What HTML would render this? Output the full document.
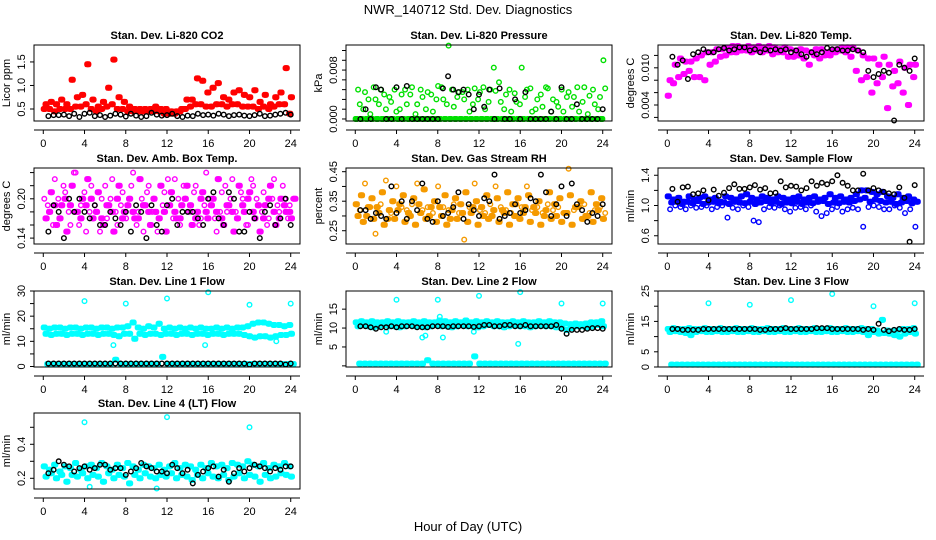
<!DOCTYPE html>
<html><head><meta charset="utf-8"><style>
body{margin:0;background:#fff}
svg{display:block;font-family:"Liberation Sans",sans-serif}
</style></head><body>
<svg id="c" width="936" height="540" xmlns="http://www.w3.org/2000/svg">
<text x="468" y="14" text-anchor="middle" font-size="13">NWR_140712  Std. Dev. Diagnostics</text>
<text x="468" y="531" text-anchor="middle" font-size="13">Hour of Day (UTC)</text>
</svg>
<script>
// ---- data (hour-of-day grid) ----
const xTicks=[0,4,8,12,16,20,24];
const co2Hi=[.6,.65,.6,.7,.6,1.12,.75,.8,1.45,.7,.55,.65,.95,1.55,.75,.65,.55,.5,.5,.5,.5,.55,.5,.5,.45,.45,.5,.7,.7,1.15,1.1,.85,.95,1.05,.75,.7,.85,.9,.8,.75,.9,.65,.8,.6,.75,.85,1.37,.75];
const co2Lo=[.5,.5,.45,.5,.5,.5,.55,.55,.6,.5,.45,.5,.55,.6,.5,.5,.45,.45,.45,.45,.45,.45,.45,.4,.4,.4,.45,.5,.55,.6,.6,.55,.55,.6,.6,.55,.6,.6,.55,.55,.55,.5,.55,.5,.55,.6,.6,.4];
const co2Blk=[.35,.37,.37,.38,.35,.4,.33,.4,.42,.35,.37,.33,.36,.4,.38,.34,.4,.36,.33,.35,.42,.38,.36,.37,.4,.35,.33,.36,.35,.4,.37,.38,.36,.4,.38,.35,.37,.38,.36,.35,.37,.4,.35,.36,.38,.4,.42,.38];
const prsZero=[0,0,0,0,0,0,0,0,0,0,0,0,0,0,0,0,0,0,0,0,0,0,0,0,0,0,0,0,0,0,0,0,0,0,0,0,0,0,0,0,0,0,0,0,0,0,0,0];
const prsA=[.0048,.0016,.0032,.0052,.0024,.004,.0036,.0048,.0016,.0048,.004,.0008,.0048,.0016,.004,.0032,.0052,.0024,.0048,.0036,.0044,.0048,.0024,.0032,.0052,.0028,.0084,.006,.0016,.0048,.0042,.0024,.0036,.005,.0016,.004,.0052,.0012,.0028,.0048,.0036,.002,.0052,.0028,.0008,.0048,.0016,.0096];
const prsB=[.0024,.0044,.0008,.0032,.0048,.0016,.0028,.0012,.004,.0024,.0052,.0024,.0036,.0044,.0012,.0054,.0032,.012,.002,.0044,.0032,.0012,.005,.0044,.0016,.0048,.0046,.0028,.004,.0012,.0028,.0084,.0048,.0012,.0032,.002,.005,.0032,.002,.0012,.0044,.0036,.0012,.0052,.0038,.0024,.0036,.005];
const prsBlk=[0,.0016,0,.0052,.0048,0,0,.0052,0,.0054,0,0,0,0,0,0,.005,.007,.0048,.0044,.0048,.004,.0016,.004,.002,.0048,0,.005,0,0,.0032,0,.0044,0,0,0,0,.0012,0,.0052,0,0,.0024,0,0,0,0,.0016];
const tmpHi=[.008,.0105,.0115,.011,.011,.0115,.012,.0125,.0125,.013,.013,.0132,.0135,.0135,.0133,.0135,.0133,.0135,.0133,.0135,.0133,.013,.0133,.013,.0128,.013,.0128,.0125,.013,.013,.0125,.0128,.013,.0133,.0133,.0133,.0128,.012,.0115,.0115,.0105,.0118,.0105,.0095,.011,.01,.0105,.0105];
const tmpLo=[.0055,.0075,.0085,.009,.0095,.0085,.0085,.008,.0105,.011,.0118,.012,.0125,.0125,.0128,.0128,.0125,.0128,.0125,.0128,.0122,.0125,.0125,.0118,.0118,.012,.0115,.0105,.012,.0115,.012,.012,.0125,.0128,.0125,.0118,.0095,.008,.0085,.006,.0075,.0085,.0035,.007,.0075,.006,.004,.0085];
const tmpBlk=[.0118,.0105,.0112,.0082,.0122,.0125,.013,.0125,.0125,.013,.0132,.0128,.013,.0133,.0133,.0128,.013,.0125,.013,.0128,.013,.0128,.013,.0125,.0128,.0122,.0118,.0125,.0122,.0125,.0132,.013,.013,.0128,.0128,.013,.0128,.0125,.0095,.0085,.009,.0095,.0092,.0015,.0105,.01,.0095,.0115];
const boxA=[.20,.18,.23,.17,.21,.16,.24,.19,.15,.22,.18,.20,.17,.23,.16,.21,.19,.24,.18,.15,.22,.20,.17,.21,.19,.23,.16,.20,.18,.22,.17,.24,.19,.15,.21,.18,.23,.17,.20,.16,.22,.19,.21,.17,.23,.18,.20,.19];
const boxB=[.17,.21,.16,.19,.15,.22,.18,.20,.23,.17,.21,.16,.19,.15,.22,.18,.20,.17,.23,.19,.16,.18,.22,.15,.21,.17,.19,.22,.16,.18,.21,.17,.20,.23,.16,.19,.15,.22,.18,.21,.17,.15,.19,.22,.16,.20,.18,.17];
const boxC=[.19,.16,.20,.22,.18,.24,.16,.21,.18,.19,.15,.22,.20,.18,.19,.17,.22,.16,.20,.21,.18,.15,.19,.23,.17,.20,.22,.18,.21,.16,.19,.20,.17,.18,.22,.20,.18,.21,.16,.23,.20,.18,.16,.20,.19,.22,.17,.20];
const boxD=[.18,.19,.17,.20,.19,.18,.17,.19,.20,.18,.17,.19,.18,.20,.17,.19,.18,.17,.19,.18,.20,.17,.18,.19,.18,.17,.20,.19,.17,.20,.18,.19,.18,.17,.19,.18,.17,.19,.20,.18,.19,.17,.20,.18,.17,.19,.18,.20];
const boxBlk=[.15,.19,.18,.14,.2,.18,.2,.18,.17,.19,.16,.16,.18,.17,.16,.18,.15,.19,.18,.14,.19,.16,.15,.19,.2,.16,.18,.18,.18,.17,.16,.2,.21,.17,.16,.21,.2,.15,.15,.18,.17,.14,.18,.19,.16,.17,.2,.16];
const rhA=[.34,.37,.30,.36,.33,.38,.29,.35,.32,.37,.31,.36,.34,.39,.30,.35,.33,.37,.29,.36,.34,.38,.31,.35,.33,.37,.30,.36,.32,.38,.34,.36,.31,.37,.33,.35,.30,.38,.34,.36,.31,.37,.33,.35,.30,.38,.34,.36];
const rhB=[.30,.28,.33,.29,.31,.27,.32,.29,.34,.28,.30,.27,.31,.29,.33,.28,.30,.27,.32,.29,.31,.28,.33,.27,.30,.29,.32,.28,.31,.27,.30,.29,.33,.28,.31,.27,.32,.29,.30,.28,.31,.27,.33,.29,.30,.28,.32,.29];
const rhC=[.32,.41,.33,.24,.34,.42,.31,.40,.33,.32,.34,.41,.32,.33,.31,.40,.33,.32,.34,.31,.22,.33,.41,.32,.31,.34,.40,.33,.32,.31,.34,.33,.40,.32,.33,.31,.34,.32,.33,.31,.46,.32,.33,.34,.31,.32,.33,.31];
const rhBlk=[.32,.32,.29,.31,.3,.29,.4,.31,.35,.29,.35,.32,.41,.29,.28,.35,.3,.31,.33,.38,.29,.34,.32,.3,.36,.35,.44,.29,.3,.31,.34,.31,.32,.36,.35,.44,.38,.3,.34,.4,.3,.41,.34,.32,.28,.31,.3,.34];
const sfA=[1.12,1.08,1.1,1.05,1.12,1.08,1.1,1.12,1.08,1.1,1.05,1.12,1.1,1.08,1.12,1.15,1.1,1.08,1.12,1.1,1.08,1.12,1.1,1.08,1.1,1.12,1.08,1.1,1.12,1.08,1.1,1.15,1.1,1.12,1.08,1.1,1.15,1.2,1.2,1.18,1.15,1.18,1.12,1.1,1.15,1.1,1.12,1.08];
const sfB=[.95,1.0,.98,.95,1.0,.97,.98,1.0,.95,.98,1.0,.84,.97,.95,1.0,.98,.8,.78,.95,.98,.97,1.0,.95,.92,.97,.98,.95,1.0,.92,.86,.9,.95,.98,.92,.95,.97,.95,.72,.98,1.0,.98,.95,.95,1.0,.97,.9,.95,.72];
const sfC=[1.04,1.05,1.02,1.05,1.03,1.06,1.02,1.04,1.05,1.03,1.04,1.02,1.05,1.04,1.03,1.05,1.02,1.04,1.06,1.03,1.05,1.02,1.04,1.03,1.05,1.02,1.04,1.03,1.05,1.06,1.02,1.04,1.03,1.05,1.04,1.06,1.08,1.1,1.05,1.08,1.06,1.04,1.05,1.02,1.04,1.06,1.03,1.05];
const sfBlk=[1.22,1.05,1.24,1.25,1.15,1.16,1.2,1.07,1.21,1.13,1.17,1.23,1.28,1.22,1.22,1.24,1.27,1.21,1.23,1.16,1.17,1.32,1.24,1.26,1.25,1.2,1.23,1.32,1.26,1.3,1.28,1.32,1.4,1.3,1.26,1.2,1.2,1.42,1.2,1.23,1.2,1.18,1.16,1.15,1.24,1.1,0.52,1.27];
const l1Up=[15.5,15,15.5,15.5,15,15.5,15.5,15,15.5,15.5,15,15.5,15.5,15,15.5,15.5,16,17.5,15.5,15,16,15.5,17,15,15.5,15,15.5,15,15.5,15,15.5,15,15,15.5,15,15.5,15,15.5,15.5,16,17,17.5,17.5,17,16.5,16.5,16,16.5];
const l1Lo=[13,12.5,13,13,12.5,13,13,12.5,13,13,12.5,13,13,12.5,12,13,13,11,13,12.5,13,13,12.5,13,13,12.5,13,13,12.5,13,13,12.5,13,13,12.5,13,13,13,12.5,12,11.5,12,12,11.5,12,12.5,12.5,13];
const l1Bot=[1,1,1,1,1,1,1,1,1,1,1,1,1,2.7,1,1,1,1,1,1,1,1,3.8,1,1,1,1,1,1,1,1,1,1,1,1,1,1,1,1,1,1,1,1,1,1,1,1,1];
const l1OutH=[4,8,12,16,20,24,6.8,15.7,22.6];
const l1OutV=[26,25,27,29.5,24.5,25,8.5,8.5,10];
const l1Blk=[1.2,1.2,1.2,1.2,1.2,1.2,1.2,1.2,1.2,1.2,1.2,1.2,1.2,1.2,1.2,1.2,1.2,1.2,1.2,1.2,1.2,1.2,1.2,1.2,1.2,1.2,1.2,1.2,1.2,1.2,1.2,1.2,1.2,1.2,1.2,1.2,1.2,1.2,1.2,0.8,1.2,1.2,1.2,1.2,1.2,1.2,0.8,1.2];
const l2Up=[11.5,11.8,11.5,11.8,11.5,11.5,11.8,11.5,11.8,11.5,11.5,11.8,11.5,11.8,11.5,11.5,12,11.8,11.5,11.8,11.5,12,11.5,11.8,11.5,11.8,11.5,11.8,11.5,11.5,11.8,11.5,11.8,11.5,11.5,11.8,11.5,11.8,11.5,11.5,11.2,11,11.2,11,11.2,11.5,11.5,11.8];
const l2Lo=[10.5,10.8,10.5,10.2,10.5,10.8,10.5,10.5,10.2,10.5,10.8,10.5,10.5,10.2,10.5,10.8,10.5,10.5,10.2,10.5,10.8,10.5,10.5,10.2,10.5,10.8,10.5,10.5,10.2,10.5,10.8,10.5,10.5,10.2,10.5,10.8,10.5,10.5,10.2,10,9.5,10,10.5,10.5,10.2,10.5,10.8,10.5];
const l2Bot=[.6,.6,.6,.6,.6,.6,.6,.6,.6,.6,.6,.6,.6,1.5,.6,.6,.6,.6,.6,.6,.6,.6,2.5,.6,.6,.6,.6,.6,.6,.6,.6,.6,.6,.6,.6,.6,.6,.6,.6,.6,.6,.6,.6,.6,.6,.6,.6,.6];
const l2OutH=[4,8,12,16,20,24,8.2,6.5,6.8,8.5,3,11.5,15.8];
const l2OutV=[17.5,17.5,18.5,19.5,16.5,16.5,13,7.5,8,7.5,9,9,5.8];
const l2Blk=[10.5,10.5,10.2,9.8,10.2,10.2,10.5,10.2,10.5,10.5,10.5,10.2,10.2,10.2,10.5,10.5,10.5,10.3,10.5,10.5,10.5,10.5,10.3,10.5,10.8,10.8,10.5,10.5,10.8,10.8,10.5,10.5,10.8,10.5,10.5,10.5,10.5,10.5,10.8,9.8,8.5,9.5,9.5,9.5,9.8,10,10,9.8];
const l3Up=[12.5,12.8,12.5,12.5,12.8,12.5,12.5,12.8,12.5,12.5,12.8,12.5,12.5,12.8,12.5,12.5,12.8,12.5,12.5,12.8,12.5,12.5,12.8,12.5,12.5,12.8,12.5,12.5,12.8,12.5,12.5,12.8,12.5,12.5,12.8,12.5,12.5,12.8,12.5,12.5,12,15.5,12,11.8,12,12.5,12.5,12.8];
const l3Lo=[11.5,11.8,11.5,11.2,10.5,11.5,11.8,11.5,11.5,11.8,11.5,11.5,11.8,11.5,11.5,11.8,11.5,11.5,11.8,11.5,11.5,11.8,11.5,11.5,11.8,11.5,11.5,11.8,11.5,11.5,11.8,11.5,11.5,11.8,11.5,11.5,11.8,11.5,10.5,11.5,11,11.2,11,10.5,10,11,11.5,11];
const l3Bot=[.8,.8,.8,.8,.8,.8,.8,.8,.8,.8,.8,.8,.8,.8,.8,.8,.8,.8,.8,.8,.8,.8,.8,.8,.8,.8,.8,.8,.8,.8,.8,.8,.8,.8,.8,.8,.8,.8,.8,.8,.8,.8,.8,.8,.8,.8,.8,.8];
const l3OutH=[4,8,12,16,20,24];
const l3OutV=[21,20.5,22,24,20,21];
const l3Blk=[12.5,12.5,12.2,12.2,12.2,12.2,12.5,12.5,12.5,12.5,12.5,12.5,12.5,12.5,12.5,12.5,12.5,12.2,12.2,12.5,12.5,12.5,12.8,12.5,12.5,12.5,12.5,12.5,12.8,12.8,12.8,12.5,12.5,12.5,12.5,12.5,12.5,12.2,12.5,12.2,14.2,12.2,11.8,12.2,12.5,12.2,12.2,12.5];
const l4A=[.27,.25,.28,.24,.27,.26,.29,.25,.27,.28,.26,.29,.27,.25,.28,.26,.29,.27,.25,.28,.27,.26,.28,.25,.27,.29,.26,.28,.27,.25,.28,.26,.29,.27,.28,.26,.29,.28,.27,.3,.28,.27,.29,.26,.28,.27,.29,.27];
const l4B=[.21,.23,.2,.22,.18,.22,.21,.23,.2,.22,.21,.18,.23,.2,.22,.21,.17,.22,.2,.23,.21,.2,.22,.21,.23,.2,.22,.21,.19,.22,.2,.23,.21,.2,.22,.19,.21,.23,.2,.22,.21,.18,.22,.2,.21,.23,.22,.21];
const l4OutH=[4,12,20,11,4.5];
const l4OutV=[.53,.56,.5,.14,.15];
const l4Blk=[.23,.25,.3,.28,.27,.24,.26,.27,.25,.26,.28,.28,.25,.26,.26,.22,.24,.26,.29,.27,.26,.24,.24,.23,.28,.26,.23,.25,.17,.22,.24,.26,.27,.21,.25,.18,.23,.26,.24,.26,.28,.27,.26,.24,.26,.25,.27,.27];

// ---- layout ----
const XL=[34,346,658], YT=[45,168,291,413], PW=266, PH=76, XD=[-0.9,24.9];
const C={red:"#ff0000",grn:"#00e000",mag:"#ff00ff",org:"#f59a00",blu:"#0000ff",cyn:"#00ffff",blk:"#000000"};
const panels=[
 {t:"Stan. Dev. Li-820 CO2",yl:"Licor ppm",c:0,r:0,yd:[0.245,1.86],ticks:[0.5,1,1.5],labs:["0.5","1.0","1.5"],col:C.red,ser:[co2Lo,co2Hi],band:[1,1],blk:co2Blk},
 {t:"Stan. Dev. Li-820 Pressure",yl:"kPa",c:1,r:0,yd:[-0.00033,0.0121],ticks:[0,.0016,.0032,.0048,.0064,.008,.0096,.0112],labs:["0.000","","","","","0.008","",""],col:C.grn,ser:[prsZero,prsA,prsB],band:[1,0,0],blk:prsBlk},
 {t:"Stan. Dev. Li-820 Temp.",yl:"degrees C",c:2,r:0,yd:[0.00142,0.01368],ticks:[.002,.004,.006,.008,.010,.012],labs:["","0.004","","","0.010",""],col:C.mag,ser:[tmpLo,tmpHi],band:[1,1],blk:tmpBlk},
 {t:"Stan. Dev. Amb. Box Temp.",yl:"degrees C",c:0,r:1,yd:[0.131,0.247],ticks:[.14,.16,.18,.20,.22,.24],labs:["0.14","","","0.20","",""],col:C.mag,ser:[boxA,boxB,boxC,boxD],band:[0,1,0,1],blk:boxBlk},
 {t:"Stan. Dev. Gas Stream RH",yl:"percent",c:1,r:1,yd:[0.205,0.4625],ticks:[.25,.30,.35,.40,.45],labs:["0.25","","0.35","","0.45"],col:C.org,ser:[rhA,rhB,rhC],band:[1,1,0],blk:rhBlk},
 {t:"Stan. Dev. Sample Flow",yl:"ml/min",c:2,r:1,yd:[0.491,1.496],ticks:[.6,.8,1.0,1.2,1.4],labs:["0.6","","1.0","","1.4"],col:C.blu,ser:[sfA,sfB,sfC],band:[1,0,1],blk:sfBlk},
 {t:"Stan. Dev. Line 1 Flow",yl:"ml/min",c:0,r:2,yd:[-0.2,30],ticks:[0,5,10,15,20,25,30],labs:["0","","10","","20","","30"],col:C.cyn,ser:[l1Up,l1Lo,l1Bot],band:[1,1,1],oh:l1OutH,ov:l1OutV,blk:l1Blk},
 {t:"Stan. Dev. Line 2 Flow",yl:"ml/min",c:1,r:2,yd:[-0.3,19.8],ticks:[0,5,10,15],labs:["","5","10","15"],col:C.cyn,ser:[l2Up,l2Lo,l2Bot],band:[1,1,1],oh:l2OutH,ov:l2OutV,blk:l2Blk},
 {t:"Stan. Dev. Line 3 Flow",yl:"ml/min",c:2,r:2,yd:[0,25],ticks:[0,5,10,15,20,25],labs:["0","5","","15","","25"],col:C.cyn,ser:[l3Up,l3Lo,l3Bot],band:[1,1,1],oh:l3OutH,ov:l3OutV,blk:l3Blk},
 {t:"Stan. Dev. Line 4 (LT) Flow",yl:"ml/min",c:0,r:3,yd:[0.137,0.584],ticks:[.2,.3,.4,.5],labs:["0.2","","0.4",""],col:C.cyn,ser:[l4A,l4B],band:[1,1],oh:l4OutH,ov:l4OutV,blk:l4Blk}
];
const NS="http://www.w3.org/2000/svg", svg=document.getElementById("c");
function mk(tag,at,parent){const e=document.createElementNS(NS,tag);for(const k in at)e.setAttribute(k,at[k]);(parent||svg).appendChild(e);return e;}
panels.forEach((p,pi)=>{
  const L=XL[p.c], T=YT[p.r], B=T+PH, R=L+PW;
  const sx=h=>L+(h-XD[0])/(XD[1]-XD[0])*PW;
  const sy=v=>B-(v-p.yd[0])/(p.yd[1]-p.yd[0])*PH;
  const g=mk("g",{});
  
  
  const tt=mk("text",{x:(L+R)/2,y:T-6,"text-anchor":"middle","font-size":"11","font-weight":"bold"},g);tt.textContent=p.t;
  
  
  const pts=mk("g",{fill:"none","stroke-width":"1.4"},g);
  
  
  const dot=(h,v,col)=>{const y=sy(v);if(y<T-1||y>B+1)return;const c=mk("circle",{cx:sx(h).toFixed(1),cy:y.toFixed(1),r:2.3,stroke:col},pts);
    
    };
  const smear=(h,v,col,w)=>{const y=sy(v);if(y<T-1||y>B+1)return;const r=mk("rect",{x:(sx(h)-w/2).toFixed(1),y:(y-3).toFixed(1),width:w.toFixed(1),height:6,rx:2.5,fill:col,stroke:"none"},pts);
    
    };
  p.ser.forEach((s,si)=>{const n=s.length,step=23.8/(n-1),w=(sx(step)-sx(0))+2;
    s.forEach((v,i)=>{const h=0.1+si*0.17+i*step;if(p.band[si])smear(h,v,p.col,w);dot(h,v,p.col);});});
  if(p.oh)p.oh.forEach((h,i)=>dot(h,p.ov[i],p.col));
  p.blk.forEach((v,i)=>dot(0.5+i*23.5/(p.blk.length-1),v,C.blk));
  const box=mk("rect",{x:L,y:T,width:PW,height:PH,fill:"none",stroke:"#000","stroke-width":"1"},g);
  
  
  const ya=mk("g",{stroke:"#000","stroke-width":"1"},g);
  
  
  p.ticks.forEach((v,i)=>{const y=sy(v);mk("line",{x1:L-4,x2:L,y1:y,y2:y},ya);
    if(p.labs[i]){const t=mk("text",{x:L-9,y:y,"text-anchor":"middle","font-size":"11",stroke:"none",transform:`rotate(-90 ${L-9} ${y})`},ya);t.textContent=p.labs[i];
      
      }});
  const yt=mk("text",{x:L-24,y:(T+B)/2,"text-anchor":"middle","font-size":"11",transform:`rotate(-90 ${L-24} ${(T+B)/2})`},g);yt.textContent=p.yl;
  
  
  const xa=mk("g",{stroke:"#000","stroke-width":"1"},g);
  
  
  mk("line",{x1:L,x2:R,y1:B+9,y2:B+9},xa);
  xTicks.forEach(h=>{const x=sx(h);mk("line",{x1:x,x2:x,y1:B+9,y2:B+13},xa);
    const t=mk("text",{x:x,y:B+26,"text-anchor":"middle","font-size":"11",stroke:"none"},xa);t.textContent=h;
    
    });
});
</script>
</body></html>
